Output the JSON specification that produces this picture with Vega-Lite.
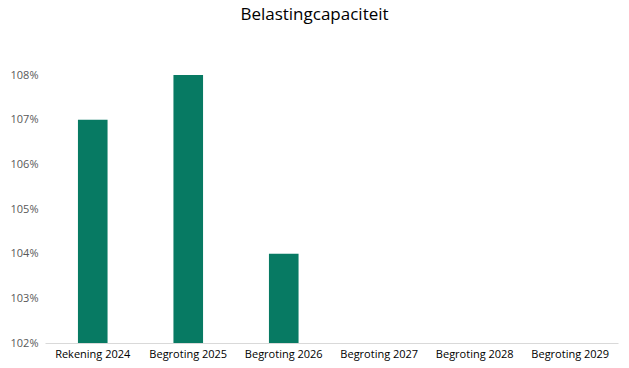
{
  "$schema": "https://vega.github.io/schema/vega-lite/v6.json",
  "width": 573,
  "height": 268,
  "autosize": {"type": "none"},
  "padding": {"left": 45, "top": 75, "right": 11, "bottom": 25},
  "background": "white",
  "title": {"text": "Belastingcapaciteit", "fontSize": 17, "font": "Open Sans", "fontWeight": "normal", "color": "#000000", "anchor": "middle", "offset": 45, "dx": -17},
  "data": {"values": [
    {"cat": "Rekening 2024", "v": 1.07},
    {"cat": "Begroting 2025", "v": 1.08},
    {"cat": "Begroting 2026", "v": 1.04},
    {"cat": "Begroting 2027", "v": null},
    {"cat": "Begroting 2028", "v": null},
    {"cat": "Begroting 2029", "v": null}
  ]},
  "mark": {"type": "bar", "color": "#077A63", "clip": true},
  "encoding": {
    "x": {"field": "cat", "type": "nominal", "sort": null, "title": null,
      "scale": {"domain": ["Rekening 2024", "Begroting 2025", "Begroting 2026", "Begroting 2027", "Begroting 2028", "Begroting 2029"], "paddingInner": 0.69, "paddingOuter": 0.345},
      "axis": {"labelAngle": 0, "ticks": false, "domainColor": "#D9D9D9", "labelFont": "Open Sans", "labelFontSize": 11, "labelColor": "#000000", "labelPadding": 5, "labelOverlap": false}},
    "y": {"field": "v", "type": "quantitative", "title": null,
      "scale": {"domain": [1.02, 1.08], "zero": false},
      "axis": {"format": ".0%", "values": [1.02, 1.03, 1.04, 1.05, 1.06, 1.07, 1.08], "labelOverlap": false, "grid": false, "domain": false, "ticks": false, "labelFont": "Open Sans", "labelFontSize": 11, "labelColor": "#595959", "labelPadding": 7}},
    "y2": {"datum": 1.02}
  },
  "config": {"view": {"stroke": null}}
}
